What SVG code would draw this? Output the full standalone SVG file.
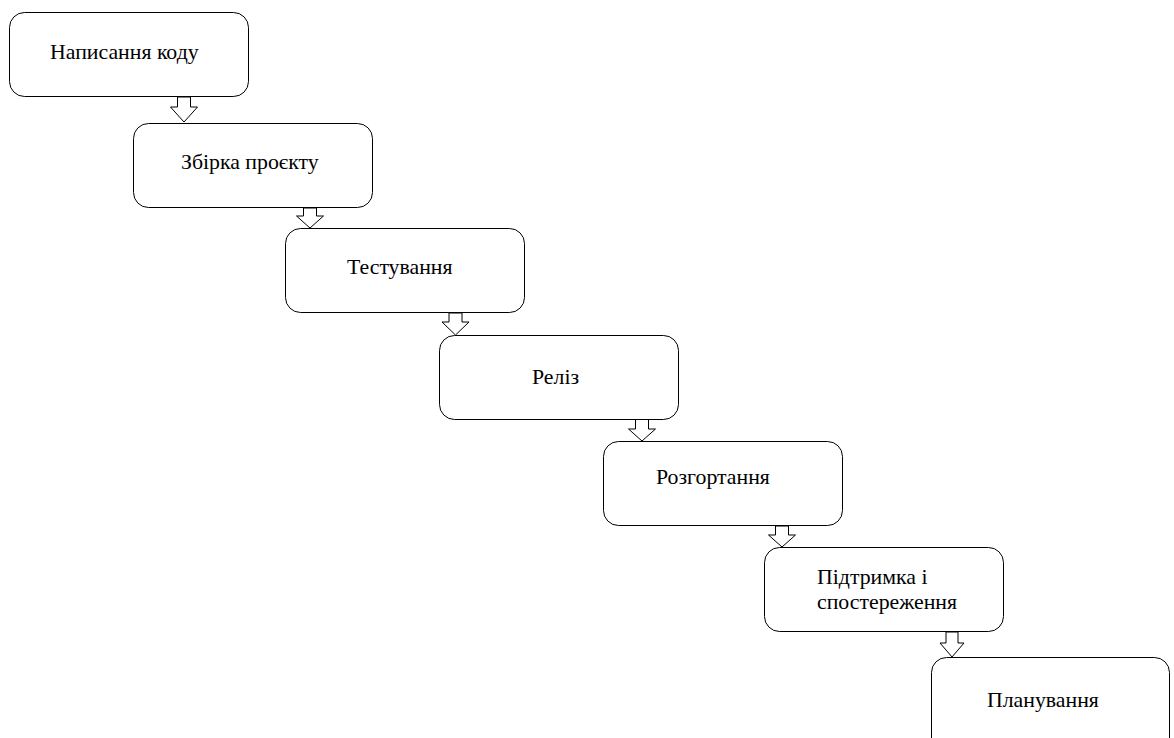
<svg xmlns="http://www.w3.org/2000/svg" width="1174" height="738" viewBox="0 0 1174 738">
<style>
.box{fill:#fff;stroke:#000;stroke-width:1}
.arr{fill:#fff;stroke:#000;stroke-width:1;stroke-linejoin:miter}
text{font-family:"Liberation Serif","Times New Roman",serif;font-size:21.8px;fill:#000}
</style>
<rect width="1174" height="738" fill="#fff"/>
<g id="connectors">
<polygon class="arr" points="177.5,97 190.5,97 190.5,107 197.5,107 184,122 170.5,107 177.5,107"/>
<polygon class="arr" points="303.5,208 316.5,208 316.5,216 323.5,216 310,228 296.5,216 303.5,216"/>
<polygon class="arr" points="449,313 462,313 462,322 469,322 455.5,335 442,322 449,322"/>
<polygon class="arr" points="635.5,419 648.5,419 648.5,429 655.5,429 642,441 628.5,429 635.5,429"/>
<polygon class="arr" points="775.5,526 788.5,526 788.5,535 795.5,535 782,547 768.5,535 775.5,535"/>
<polygon class="arr" points="946,632 958,632 958,643 964,643 952,657 940,643 946,643"/>
</g>
<g id="n1"><rect class="box" x="9.5" y="12.5" width="239" height="84" rx="15"/><text x="50" y="58.5">Написання коду</text></g>
<g id="n2"><rect class="box" x="133.5" y="123.5" width="239" height="84" rx="15"/><text x="181" y="169">Збірка проєкту</text></g>
<g id="n3"><rect class="box" x="285.5" y="228.5" width="239" height="84" rx="15"/><text x="347" y="274">Тестування</text></g>
<g id="n4"><rect class="box" x="439.5" y="335.5" width="239" height="84" rx="15"/><text x="532" y="384">Реліз</text></g>
<g id="n5"><rect class="box" x="603.5" y="441.5" width="239" height="84" rx="15"/><text x="656" y="484">Розгортання</text></g>
<g id="n6"><rect class="box" x="764.5" y="547.5" width="239" height="84" rx="15"/><text x="817" y="584">Підтримка і</text><text x="817" y="609">спостереження</text></g>
<g id="n7"><rect class="box" x="931.5" y="657.5" width="238" height="100" rx="15"/><text x="987" y="707">Планування</text></g>
</svg>
